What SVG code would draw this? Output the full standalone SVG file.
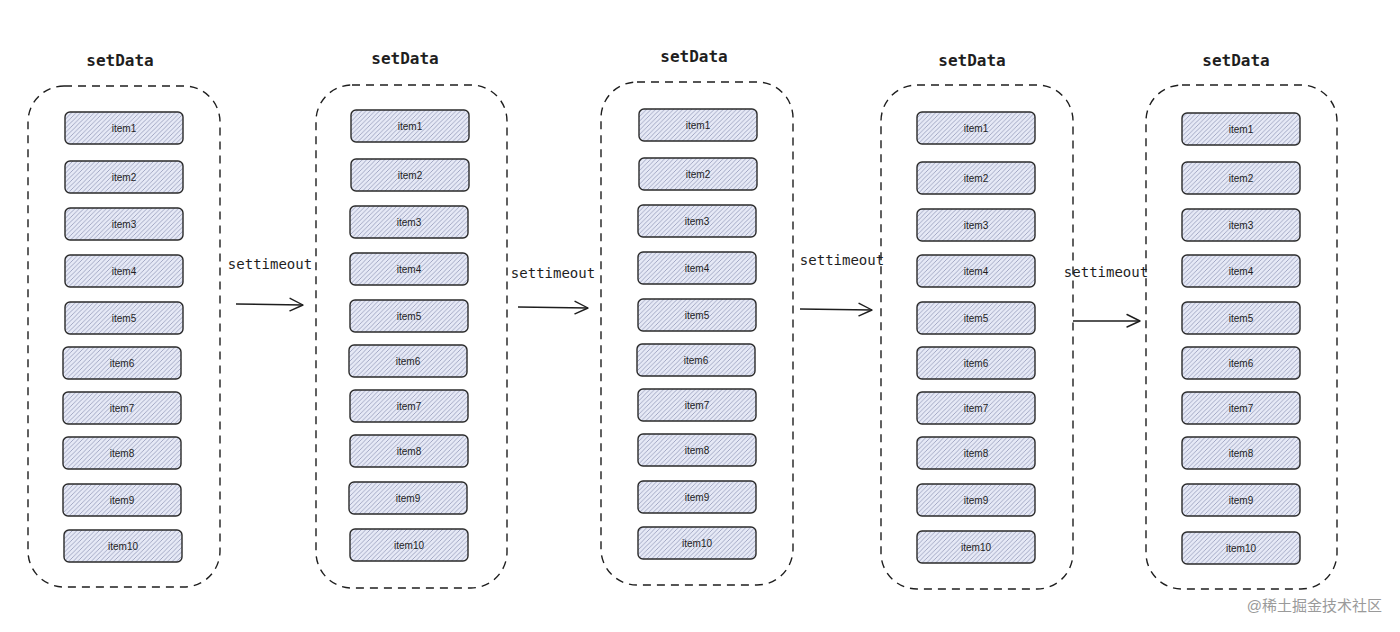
<svg xmlns="http://www.w3.org/2000/svg" width="1400" height="632" viewBox="0 0 1400 632">
<defs>
<pattern id="hatch" patternUnits="userSpaceOnUse" width="4.5" height="4.5">
<rect width="4.5" height="4.5" fill="#e6e9f6"/>
<path d="M0,4.5 L4.5,0 M-1,1 L1,-1 M3.5,5.5 L5.5,3.5" stroke="#939ab8" stroke-width="0.8"/>
</pattern>
<marker id="arr" markerWidth="16" markerHeight="16" refX="14" refY="8" orient="auto" markerUnits="userSpaceOnUse">
<path d="M1,1.5 L14,8 L1,14" fill="none" stroke="#1e1e1e" stroke-width="1.4" stroke-linecap="round" stroke-linejoin="round"/>
</marker>
</defs>
<style>
.box{fill:none;stroke:#1e1e1e;stroke-width:1.4;stroke-dasharray:8 6}
.item rect{fill:url(#hatch);stroke:#2a2a2a;stroke-width:1.4}
.item text{font-family:"Liberation Sans",sans-serif;font-size:10px;fill:#1e1e1e;text-anchor:middle}
.title{font-family:"DejaVu Sans Mono",monospace;font-size:16px;font-weight:bold;fill:#1e1e1e;text-anchor:middle}
.lbl{font-family:"DejaVu Sans Mono",monospace;font-size:14px;fill:#1e1e1e;text-anchor:middle}
.conn path{fill:none;stroke:#1e1e1e;stroke-width:1.4;marker-end:url(#arr)}
</style>
<rect width="1400" height="632" fill="#ffffff"/>

<g id="col1">
<text class="title" x="120" y="66">setData</text>
<rect class="box" x="28" y="86" width="192" height="501" rx="36"/>
<g id="c1i1" class="item"><rect x="65" y="112" width="118" height="32" rx="5"/><text x="124" y="131.5">item1</text></g>
<g id="c1i2" class="item"><rect x="65" y="161" width="118" height="32" rx="5"/><text x="124" y="180.5">item2</text></g>
<g id="c1i3" class="item"><rect x="65" y="208" width="118" height="32" rx="5"/><text x="124" y="227.5">item3</text></g>
<g id="c1i4" class="item"><rect x="65" y="255" width="118" height="32" rx="5"/><text x="124" y="274.5">item4</text></g>
<g id="c1i5" class="item"><rect x="65" y="302" width="118" height="32" rx="5"/><text x="124" y="321.5">item5</text></g>
<g id="c1i6" class="item"><rect x="63" y="347" width="118" height="32" rx="5"/><text x="122" y="366.5">item6</text></g>
<g id="c1i7" class="item"><rect x="63" y="392" width="118" height="32" rx="5"/><text x="122" y="411.5">item7</text></g>
<g id="c1i8" class="item"><rect x="63" y="437" width="118" height="32" rx="5"/><text x="122" y="456.5">item8</text></g>
<g id="c1i9" class="item"><rect x="63" y="484" width="118" height="32" rx="5"/><text x="122" y="503.5">item9</text></g>
<g id="c1i10" class="item"><rect x="64" y="530" width="118" height="32" rx="5"/><text x="123" y="549.5">item10</text></g>
</g>

<g id="col2">
<text class="title" x="405" y="64">setData</text>
<rect class="box" x="316" y="85" width="191" height="503" rx="36"/>
<g id="c2i1" class="item"><rect x="351" y="110" width="118" height="32" rx="5"/><text x="410" y="129.5">item1</text></g>
<g id="c2i2" class="item"><rect x="351" y="159" width="118" height="32" rx="5"/><text x="410" y="178.5">item2</text></g>
<g id="c2i3" class="item"><rect x="350" y="206" width="118" height="32" rx="5"/><text x="409" y="225.5">item3</text></g>
<g id="c2i4" class="item"><rect x="350" y="253" width="118" height="32" rx="5"/><text x="409" y="272.5">item4</text></g>
<g id="c2i5" class="item"><rect x="350" y="300" width="118" height="32" rx="5"/><text x="409" y="319.5">item5</text></g>
<g id="c2i6" class="item"><rect x="349" y="345" width="118" height="32" rx="5"/><text x="408" y="364.5">item6</text></g>
<g id="c2i7" class="item"><rect x="350" y="390" width="118" height="32" rx="5"/><text x="409" y="409.5">item7</text></g>
<g id="c2i8" class="item"><rect x="350" y="435" width="118" height="32" rx="5"/><text x="409" y="454.5">item8</text></g>
<g id="c2i9" class="item"><rect x="349" y="482" width="118" height="32" rx="5"/><text x="408" y="501.5">item9</text></g>
<g id="c2i10" class="item"><rect x="350" y="529" width="118" height="32" rx="5"/><text x="409" y="548.5">item10</text></g>
</g>

<g id="col3">
<text class="title" x="694" y="62">setData</text>
<rect class="box" x="601" y="82" width="192" height="503" rx="36"/>
<g id="c3i1" class="item"><rect x="639" y="109" width="118" height="32" rx="5"/><text x="698" y="128.5">item1</text></g>
<g id="c3i2" class="item"><rect x="639" y="158" width="118" height="32" rx="5"/><text x="698" y="177.5">item2</text></g>
<g id="c3i3" class="item"><rect x="638" y="205" width="118" height="32" rx="5"/><text x="697" y="224.5">item3</text></g>
<g id="c3i4" class="item"><rect x="638" y="252" width="118" height="32" rx="5"/><text x="697" y="271.5">item4</text></g>
<g id="c3i5" class="item"><rect x="638" y="299" width="118" height="32" rx="5"/><text x="697" y="318.5">item5</text></g>
<g id="c3i6" class="item"><rect x="637" y="344" width="118" height="32" rx="5"/><text x="696" y="363.5">item6</text></g>
<g id="c3i7" class="item"><rect x="638" y="389" width="118" height="32" rx="5"/><text x="697" y="408.5">item7</text></g>
<g id="c3i8" class="item"><rect x="638" y="434" width="118" height="32" rx="5"/><text x="697" y="453.5">item8</text></g>
<g id="c3i9" class="item"><rect x="638" y="481" width="118" height="32" rx="5"/><text x="697" y="500.5">item9</text></g>
<g id="c3i10" class="item"><rect x="638" y="527" width="118" height="32" rx="5"/><text x="697" y="546.5">item10</text></g>
</g>

<g id="col4">
<text class="title" x="972" y="66">setData</text>
<rect class="box" x="881" y="85" width="192" height="504" rx="36"/>
<g id="c4i1" class="item"><rect x="917" y="112" width="118" height="32" rx="5"/><text x="976" y="131.5">item1</text></g>
<g id="c4i2" class="item"><rect x="917" y="162" width="118" height="32" rx="5"/><text x="976" y="181.5">item2</text></g>
<g id="c4i3" class="item"><rect x="917" y="209" width="118" height="32" rx="5"/><text x="976" y="228.5">item3</text></g>
<g id="c4i4" class="item"><rect x="917" y="255" width="118" height="32" rx="5"/><text x="976" y="274.5">item4</text></g>
<g id="c4i5" class="item"><rect x="917" y="302" width="118" height="32" rx="5"/><text x="976" y="321.5">item5</text></g>
<g id="c4i6" class="item"><rect x="917" y="347" width="118" height="32" rx="5"/><text x="976" y="366.5">item6</text></g>
<g id="c4i7" class="item"><rect x="917" y="392" width="118" height="32" rx="5"/><text x="976" y="411.5">item7</text></g>
<g id="c4i8" class="item"><rect x="917" y="437" width="118" height="32" rx="5"/><text x="976" y="456.5">item8</text></g>
<g id="c4i9" class="item"><rect x="917" y="484" width="118" height="32" rx="5"/><text x="976" y="503.5">item9</text></g>
<g id="c4i10" class="item"><rect x="917" y="531" width="118" height="32" rx="5"/><text x="976" y="550.5">item10</text></g>
</g>

<g id="col5">
<text class="title" x="1236" y="66">setData</text>
<rect class="box" x="1146" y="85" width="191" height="504" rx="36"/>
<g id="c5i1" class="item"><rect x="1182" y="113" width="118" height="32" rx="5"/><text x="1241" y="132.5">item1</text></g>
<g id="c5i2" class="item"><rect x="1182" y="162" width="118" height="32" rx="5"/><text x="1241" y="181.5">item2</text></g>
<g id="c5i3" class="item"><rect x="1182" y="209" width="118" height="32" rx="5"/><text x="1241" y="228.5">item3</text></g>
<g id="c5i4" class="item"><rect x="1182" y="255" width="118" height="32" rx="5"/><text x="1241" y="274.5">item4</text></g>
<g id="c5i5" class="item"><rect x="1182" y="302" width="118" height="32" rx="5"/><text x="1241" y="321.5">item5</text></g>
<g id="c5i6" class="item"><rect x="1182" y="347" width="118" height="32" rx="5"/><text x="1241" y="366.5">item6</text></g>
<g id="c5i7" class="item"><rect x="1182" y="392" width="118" height="32" rx="5"/><text x="1241" y="411.5">item7</text></g>
<g id="c5i8" class="item"><rect x="1182" y="437" width="118" height="32" rx="5"/><text x="1241" y="456.5">item8</text></g>
<g id="c5i9" class="item"><rect x="1182" y="484" width="118" height="32" rx="5"/><text x="1241" y="503.5">item9</text></g>
<g id="c5i10" class="item"><rect x="1182" y="532" width="118" height="32" rx="5"/><text x="1241" y="551.5">item10</text></g>
</g>

<g id="connectors" class="conn">
<path d="M236,304 L303,305"/>
<path d="M518,307 L588,308"/>
<path d="M800,309 L872,310"/>
<path d="M1073,321 L1140,321"/>
</g>
<g id="connector-labels">
<text class="lbl" x="270" y="269">settimeout</text>
<text class="lbl" x="553" y="278">settimeout</text>
<text class="lbl" x="842" y="265">settimeout</text>
<text class="lbl" x="1106" y="277">settimeout</text>
</g>

<text x="1382" y="611" text-anchor="end" font-family="'Liberation Sans','Noto Sans CJK SC',sans-serif" font-size="15" fill="#9a9a9a">@稀土掘金技术社区</text>
</svg>
